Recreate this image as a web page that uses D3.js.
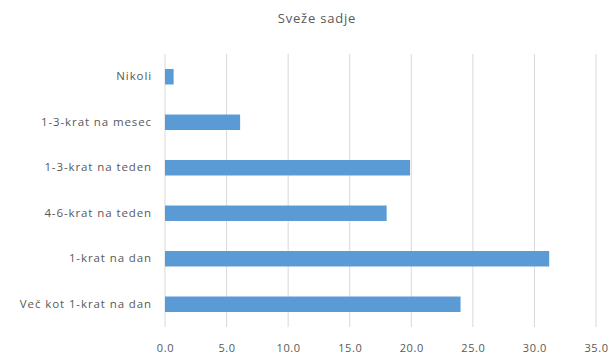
<!DOCTYPE html>
<html>
<head>
<meta charset="utf-8">
<script src="https://cdn.jsdelivr.net/npm/d3@7"></script>
<style>
  html, body { margin: 0; padding: 0; background: #fff; }
  svg { display: block; }
  text { font-family: "Open Sans", Lato, sans-serif; fill: #595959; }
</style>
</head>
<body>
<svg id="chart" width="611" height="354"></svg>
<script>
// Fresh fruit consumption frequency (%)
const categories = [
  "Nikoli",
  "1-3-krat na mesec",
  "1-3-krat na teden",
  "4-6-krat na teden",
  "1-krat na dan",
  "Več kot 1-krat na dan"
];
const values = [0.7, 6.1, 19.9, 18.0, 31.2, 24.0];
const tickValues = [0, 5, 10, 15, 20, 25, 30, 35];
const title = "Sveže sadje";

const W = 611, H = 354;
const margin = { top: 54, right: 15, bottom: 27, left: 165 };
const svg = d3.select("#chart");

const x = d3.scaleLinear()
  .domain([0, 35])
  .range([margin.left, W - margin.right]);

const y = d3.scaleBand()
  .domain(categories)
  .range([margin.top, H - margin.bottom])
  .paddingInner(0.66)
  .paddingOuter(0.33);

// title
svg.append("text")
  .attr("x", 317)
  .attr("y", 23)
  .attr("text-anchor", "middle")
  .style("font-size", "13px")
  .style("letter-spacing", "0.8px")
  .text(title);

// vertical gridlines
svg.append("g")
  .selectAll("line")
  .data(tickValues)
  .join("line")
  .attr("x1", d => x(d))
  .attr("x2", d => x(d))
  .attr("y1", margin.top)
  .attr("y2", H - margin.bottom)
  .attr("stroke", "#d9d9d9")
  .attr("stroke-width", 1);

// bars
svg.append("g")
  .selectAll("rect")
  .data(values)
  .join("rect")
  .attr("x", x(0))
  .attr("y", (d, i) => y(categories[i]))
  .attr("width", d => x(d) - x(0))
  .attr("height", y.bandwidth())
  .attr("fill", "#5b9bd5");

// x axis labels
const xAxis = d3.axisBottom(x)
  .tickValues(tickValues)
  .tickFormat(d3.format(".1f"))
  .tickSize(0)
  .tickPadding(0);
const gx = svg.append("g")
  .attr("transform", `translate(0,${H - margin.bottom + 25})`)
  .call(xAxis);
gx.select(".domain").remove();
gx.selectAll("text")
  .style("font-size", "11px")
  .style("letter-spacing", "0.6px")
  .attr("fill", "#595959")
  .attr("dy", "0");

// category labels
const yAxis = d3.axisLeft(y).tickSize(0).tickPadding(13);
const gy = svg.append("g")
  .attr("transform", `translate(${margin.left},0)`)
  .call(yAxis);
gy.select(".domain").remove();
gy.selectAll("text")
  .style("font-size", "11.5px")
  .style("letter-spacing", "0.9px")
  .attr("fill", "#595959");
</script>
</body>
</html>
